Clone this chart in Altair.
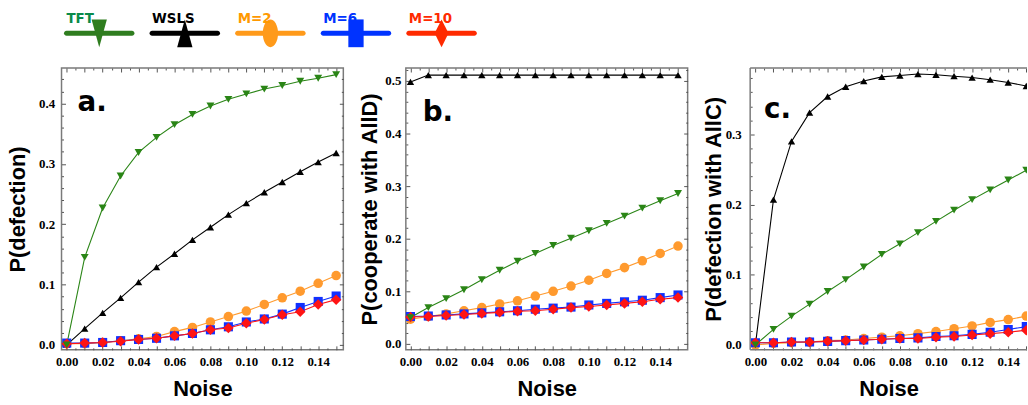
import altair as alt
import pandas as pd

# ---------------- data ----------------
noise = [0.00, 0.01, 0.02, 0.03, 0.04, 0.05, 0.06, 0.07, 0.08, 0.09, 0.10, 0.11, 0.12, 0.13, 0.14, 0.15]

series_names = ["TFT", "WSLS", "M=2", "M=6", "M=10"]
draw_order = ["WSLS", "M=2", "M=6", "M=10", "TFT"]
marker_colors = ["#2a8516", "#000000", "#ff9a2e", "#1030ff", "#ff1414"]
legend_line_colors = ["#2f7d1f", "#000000", "#ff9a1a", "#0033ff", "#ff2a00"]
legend_text_colors = ["#0a8a4a", "#000000", "#ff9900", "#0033ff", "#ff2a00"]
marker_shapes = ["triangle-down", "triangle-up", "circle", "square", "diamond"]
marker_sizes = [64, 55, 92, 84, 112]
legend_shapes = [
    "M-0.55,-1L0.55,-1L0,1Z",
    "M0,-1L0.55,1L-0.55,1Z",
    "M-0.55,0A0.55,1 0 1,0 0.55,0A0.55,1 0 1,0 -0.55,0Z",
    "M-0.55,-1H0.55V1H-0.55Z",
    "M0,-1L0.5,0L0,1L-0.5,0Z",
]

# panel a: P(defection)
a_tft = [0.0, 0.145, 0.227, 0.280, 0.319, 0.344, 0.365, 0.382, 0.396, 0.407, 0.416, 0.424, 0.430, 0.437, 0.442, 0.448]
a_wsls = [0.0, 0.027, 0.053, 0.078, 0.104, 0.129, 0.151, 0.174, 0.195, 0.216, 0.235, 0.253, 0.270, 0.287, 0.303, 0.318]
a_m2 = [0.002, 0.002, 0.004, 0.007, 0.010, 0.014, 0.022, 0.029, 0.038, 0.047, 0.056, 0.067, 0.078, 0.089, 0.102, 0.115]
a_m6 = [0.003, 0.003, 0.004, 0.007, 0.009, 0.011, 0.015, 0.019, 0.025, 0.030, 0.038, 0.043, 0.051, 0.062, 0.072, 0.081]
a_m10 = [0.002, 0.003, 0.004, 0.006, 0.009, 0.011, 0.015, 0.019, 0.025, 0.028, 0.036, 0.042, 0.050, 0.055, 0.067, 0.075]

# panel b: P(cooperate with AllD)
b_tft = [0.050, 0.069, 0.086, 0.103, 0.122, 0.140, 0.157, 0.172, 0.187, 0.201, 0.215, 0.229, 0.243, 0.258, 0.272, 0.286]
b_wsls = [0.498, 0.511, 0.511, 0.511, 0.511, 0.511, 0.511, 0.511, 0.511, 0.511, 0.511, 0.511, 0.511, 0.511, 0.511, 0.511]
b_m2 = [0.047, 0.052, 0.057, 0.063, 0.069, 0.076, 0.082, 0.091, 0.100, 0.110, 0.121, 0.134, 0.145, 0.158, 0.172, 0.186]
b_m6 = [0.052, 0.053, 0.055, 0.057, 0.059, 0.061, 0.063, 0.066, 0.068, 0.070, 0.074, 0.077, 0.080, 0.083, 0.088, 0.093]
b_m10 = [0.051, 0.052, 0.054, 0.056, 0.058, 0.060, 0.062, 0.063, 0.066, 0.069, 0.071, 0.074, 0.077, 0.080, 0.085, 0.088]

# panel c: P(defection with AllC)
c_tft = [0.0, 0.022, 0.041, 0.058, 0.076, 0.093, 0.111, 0.129, 0.144, 0.160, 0.176, 0.192, 0.207, 0.221, 0.235, 0.249]
c_wsls = [0.0, 0.207, 0.290, 0.331, 0.354, 0.368, 0.376, 0.382, 0.384, 0.386, 0.385, 0.383, 0.381, 0.378, 0.374, 0.369]
c_m2 = [0.0, 0.002, 0.003, 0.004, 0.006, 0.007, 0.009, 0.011, 0.013, 0.016, 0.019, 0.023, 0.027, 0.032, 0.036, 0.041]
c_m6 = [0.003, 0.003, 0.004, 0.004, 0.005, 0.006, 0.007, 0.008, 0.009, 0.010, 0.012, 0.013, 0.015, 0.018, 0.022, 0.026]
c_m10 = [0.003, 0.003, 0.004, 0.004, 0.005, 0.006, 0.007, 0.008, 0.009, 0.009, 0.011, 0.012, 0.014, 0.016, 0.018, 0.021]

panel_letters = ["a.", "b.", "c."]
y_titles = ["P(defection)", "P(cooperate with AllD)", "P(defection with AllC)"]
x_title = "Noise"

# tick positions (major + minor)
x_ticks = [round(i * 0.005, 3) for i in range(31)]
y_ticks_a = [round(i * 0.02, 2) for i in range(23)]
y_ticks_b = [round(i * 0.02, 2) for i in range(27)]
y_ticks_c = [round(i * 0.02, 2) for i in range(20)]

# ---------------- helpers ----------------
FRAME = "#7a7a7a"
TICK = "#555555"
PH = 284


def long_df(tft, wsls, m2, m6, m10):
    vals = {"TFT": tft, "WSLS": wsls, "M=2": m2, "M=6": m6, "M=10": m10}
    rows = []
    for s in draw_order:
        for xv, yv in zip(noise, vals[s]):
            rows.append({"noise": xv, "p": yv, "series": s})
    return pd.DataFrame(rows)


x_major = "abs(datum.value / 0.01 - round(datum.value / 0.01)) < 1e-6"
x_label = "abs(datum.value / 0.02 - round(datum.value / 0.02)) < 1e-6 ? format(datum.value, '.2f') : ''"
y_major = "abs(datum.value / 0.1 - round(datum.value / 0.1)) < 1e-6"
y_label = "abs(datum.value / 0.1 - round(datum.value / 0.1)) < 1e-6 ? format(datum.value, '.1f') : ''"


def make_axis(orient, values, major_test, label_expr, labels, label_padding=6, title_padding=4):
    kw = dict(
        orient=orient,
        values=values,
        offset=-4,
        tickSize=4,
        tickColor=TICK,
        tickWidth=1,
        tickDash={"condition": {"test": major_test, "value": [4, 0]}, "value": [0, 2, 2, 0]},
        domain=False,
        grid=False,
        labels=labels,
        labelFont="Liberation Serif",
        labelFontWeight="bold",
        labelFontSize=13,
        labelColor="black",
        labelPadding=label_padding,
        labelFlush=False,
        labelOverlap=False,
        titleFont="Liberation Sans",
        titleFontWeight="bold",
        titleFontSize=22,
        titleColor="black",
        titlePadding=title_padding,
    )
    if labels:
        kw["labelExpr"] = label_expr
    return alt.Axis(**kw)


color_scale = alt.Scale(domain=series_names, range=marker_colors)


def make_panel(df, xdom, ydom, yticks, width, ytitle, letter, letter_pos,
               y_label_padding, y_title_padding, mirror_right=True, clip=False):
    xs = alt.Scale(domain=xdom, nice=False, zero=False)
    ys = alt.Scale(domain=ydom, nice=False, zero=False)

    lines = alt.Chart(df).mark_line(strokeWidth=1.1, clip=clip).encode(
        x=alt.X("noise:Q", scale=xs, title=x_title,
                axis=make_axis("bottom", x_ticks, x_major, x_label, True, 6, 10)),
        y=alt.Y("p:Q", scale=ys, title=ytitle,
                axis=make_axis("left", yticks, y_major, y_label, True, y_label_padding, y_title_padding)),
        color=alt.Color("series:N", scale=color_scale, legend=None),
        detail="series:N",
    )
    point_layers = []
    for name in draw_order:
        i = series_names.index(name)
        point_layers.append(
            alt.Chart(df).transform_filter(alt.datum.series == name).mark_point(
                filled=True, opacity=1, strokeWidth=0, clip=clip,
                shape=marker_shapes[i], size=marker_sizes[i], color=marker_colors[i],
            ).encode(
                x=alt.X("noise:Q", scale=xs, axis=None),
                y=alt.Y("p:Q", scale=ys, axis=None),
            )
        )
    mirror_enc = dict(
        x=alt.X("noise:Q", scale=xs, title=None,
                axis=make_axis("top", x_ticks, x_major, x_label, False)),
    )
    if mirror_right:
        mirror_enc["y"] = alt.Y("p:Q", scale=ys, title=None,
                                axis=make_axis("right", yticks, y_major, y_label, False))
    else:
        mirror_enc["y"] = alt.Y("p:Q", scale=ys, axis=None)
    mirror = alt.Chart(df).mark_line(opacity=0).encode(**mirror_enc)

    label = alt.Chart(pd.DataFrame({"letter": [letter]})).mark_text(
        align="left", baseline="alphabetic", font="DejaVu Sans", fontWeight="bold",
        fontSize=28, color="black",
    ).encode(text="letter:N", x=alt.value(letter_pos[0]), y=alt.value(letter_pos[1]))

    layers = [lines] + point_layers + [mirror, label]
    view = alt.ViewBackground(stroke=FRAME, strokeWidth=1.5)
    if not mirror_right:
        one = pd.DataFrame({"k": [0]})
        rule = alt.Chart(one).mark_rule(color=FRAME, strokeWidth=1.5)
        layers += [
            rule.encode(x=alt.value(0), y=alt.value(0), y2=alt.value(PH)),
            rule.encode(x=alt.value(0), x2=alt.value(width), y=alt.value(0)),
            rule.encode(x=alt.value(0), x2=alt.value(width), y=alt.value(PH)),
        ]
        view = alt.ViewBackground(stroke=None)
    return alt.layer(*layers).resolve_axis(x="independent", y="independent").properties(
        width=width, height=PH, view=view
    )


panel_a = make_panel(long_df(a_tft, a_wsls, a_m2, a_m6, a_m10),
                     [-0.0029, 0.154], [-0.0082, 0.4589], y_ticks_a, 284,
                     y_titles[0], panel_letters[0], (16, 43), 7, 9)
panel_b = make_panel(long_df(b_tft, b_wsls, b_m2, b_m6, b_m10),
                     [-0.0026, 0.1554], [-0.0113, 0.5244], y_ticks_b, 284,
                     y_titles[1], panel_letters[1], (17, 53), 5, 3)
panel_c = make_panel(long_df(c_tft, c_wsls, c_m2, c_m6, c_m10),
                     [-0.0029, 0.1504], [-0.0071, 0.3946], y_ticks_c, 279,
                     y_titles[2], panel_letters[2], (14, 50), 9, 0,
                     mirror_right=False, clip=True)

# ---------------- legend row ----------------
leg_df = pd.DataFrame({"name": series_names})
leg_x = alt.X("name:N", scale=alt.Scale(type="point", domain=series_names, range=[38, 383], padding=0), axis=None)
leg_lines = alt.Chart(leg_df).mark_tick(orient="horizontal", size=71, thickness=5, cornerRadius=2.5, opacity=1).encode(
    x=leg_x, y=alt.value(32),
    color=alt.Color("name:N", scale=alt.Scale(domain=series_names, range=legend_line_colors), legend=None),
)
leg_marks = alt.Chart(leg_df).mark_point(filled=True, opacity=1, strokeWidth=0, size=784).encode(
    x=leg_x, y=alt.value(32),
    color=alt.Color("name:N", scale=alt.Scale(domain=series_names, range=legend_line_colors), legend=None),
    shape=alt.Shape("name:N", scale=alt.Scale(domain=series_names, range=legend_shapes), legend=None),
)
leg_text = alt.Chart(leg_df).mark_text(
    align="left", baseline="alphabetic", dx=-33, font="DejaVu Sans Condensed",
    fontWeight="bold", fontSize=15,
).encode(
    x=leg_x, y=alt.value(22), text="name:N",
    fill=alt.Fill("name:N", scale=alt.Scale(domain=series_names, range=legend_text_colors), legend=None),
)
legend_row = alt.layer(leg_lines, leg_marks, leg_text).resolve_scale(color="independent").properties(
    width=540, height=50, view=alt.ViewBackground(stroke=None)
)

chart = alt.vconcat(
    legend_row,
    alt.hconcat(panel_a, panel_b, panel_c, spacing=12),
    spacing=12,
).properties(
    padding={"left": 6, "top": 0, "right": 0, "bottom": 0},
    background="white",
).configure_view(stroke=None)

chart.save("out.html", embed_options={"renderer": "svg", "actions": False})
